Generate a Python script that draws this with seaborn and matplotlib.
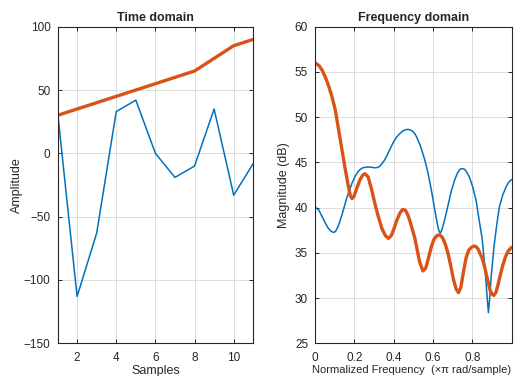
import numpy as np
import pandas as pd
import matplotlib
matplotlib.use("Agg")
import matplotlib.pyplot as plt
import seaborn as sns

# ---- data ----
samples = [1, 2, 3, 4, 5, 6, 7, 8, 9, 10, 11]
signal_blue = [33, -113, -63, 33, 42, 0, -19, -10, 35, -33, -8]
signal_orange = [30, 35, 40, 45, 50, 55, 60, 65, 75, 85, 90]

freq_orange = [0.000, 0.020, 0.036, 0.053, 0.070, 0.087, 0.103, 0.120, 0.137,
               0.154, 0.170, 0.180, 0.188, 0.197, 0.210, 0.229, 0.243, 0.254,
               0.270, 0.288, 0.305, 0.322, 0.340, 0.358, 0.373, 0.388, 0.402,
               0.416, 0.432, 0.446, 0.460, 0.472, 0.483, 0.495, 0.507, 0.520,
               0.532, 0.549, 0.563, 0.578, 0.592, 0.605, 0.620, 0.634, 0.648,
               0.662, 0.676, 0.690, 0.705, 0.718, 0.730, 0.742, 0.755, 0.768,
               0.782, 0.795, 0.808, 0.819, 0.830, 0.840, 0.850, 0.861, 0.875,
               0.890, 0.900, 0.909, 0.920, 0.930, 0.942, 0.955, 0.968, 0.980,
               0.990, 1.000]
mag_orange = [56.0, 55.7, 55.2, 54.4, 53.4, 52.2, 50.8, 48.6, 46.4,
              44.2, 42.3, 41.3, 41.0, 41.2, 42.0, 43.1, 43.6, 43.75,
              43.4, 42.0, 40.4, 39.0, 37.7, 36.9, 36.6, 36.9, 37.7,
              38.6, 39.4, 39.8, 39.7, 39.2, 38.5, 37.6, 36.7, 35.3,
              34.0, 33.0, 33.3, 34.5, 35.7, 36.5, 36.9, 37.0, 36.7,
              36.0, 35.0, 33.6, 32.0, 31.0, 30.6, 31.2, 32.9, 34.4,
              35.3, 35.6, 35.75, 35.7, 35.4, 34.9, 34.4, 33.6, 32.3,
              30.9, 30.45, 30.3, 30.6, 31.4, 32.5, 33.6, 34.5, 35.1,
              35.4, 35.6]

freq_blue = [0.000, 0.020, 0.036, 0.050, 0.065, 0.080, 0.095, 0.105, 0.115,
             0.125, 0.137, 0.150, 0.162, 0.171, 0.188, 0.205, 0.218, 0.229,
             0.242, 0.255, 0.270, 0.290, 0.305, 0.320, 0.330, 0.340, 0.352,
             0.365, 0.380, 0.398, 0.415, 0.432, 0.446, 0.460, 0.472, 0.483,
             0.495, 0.507, 0.517, 0.525, 0.533, 0.541, 0.558, 0.575, 0.592,
             0.609, 0.618, 0.625, 0.631, 0.637, 0.643, 0.650, 0.662, 0.676,
             0.694, 0.711, 0.724, 0.736, 0.744, 0.751, 0.760, 0.768, 0.785,
             0.802, 0.819, 0.835, 0.850, 0.865, 0.876, 0.882, 0.888, 0.897,
             0.910, 0.925, 0.938, 0.955, 0.972, 0.985, 1.000]
mag_blue = [40.1, 39.7, 39.0, 38.4, 37.8, 37.4, 37.25, 37.4, 37.8,
            38.4, 39.2, 40.2, 41.1, 41.7, 42.7, 43.5, 43.95, 44.2,
            44.4, 44.45, 44.5, 44.45, 44.4, 44.45, 44.6, 44.85, 45.2,
            45.7, 46.4, 47.2, 47.8, 48.2, 48.45, 48.6, 48.65, 48.6,
            48.45, 48.2, 47.8, 47.4, 47.0, 46.5, 45.3, 43.8, 41.9,
            39.8, 38.7, 37.9, 37.4, 37.2, 37.4, 37.9, 38.9, 40.2,
            41.9, 43.1, 43.8, 44.2, 44.3, 44.3, 44.25, 44.05, 43.4,
            42.3, 40.85, 38.6, 36.6, 33.2, 30.0, 28.4, 29.8, 32.6,
            35.6, 38.2, 40.1, 41.4, 42.3, 42.8, 43.1]

left_xticks = [2, 4, 6, 8, 10]
left_yticks = [-150, -100, -50, 0, 50, 100]
right_xticks = [0, 0.2, 0.4, 0.6, 0.8]
right_xticklabels = ["0", "0.2", "0.4", "0.6", "0.8"]
right_yticks = [25, 30, 35, 40, 45, 50, 55, 60]

BLUE = "#0072BD"
ORANGE = "#D95319"

sns.set_theme(style="whitegrid")
plt.rcParams["font.family"] = ["Liberation Sans", "DejaVu Sans"]
plt.rcParams["axes.edgecolor"] = "#262626"
plt.rcParams["axes.linewidth"] = 0.8
plt.rcParams["grid.color"] = "#dcdcdc"
plt.rcParams["grid.linewidth"] = 0.7

fig = plt.figure(figsize=(5.15, 3.76), dpi=100)
ax1 = fig.add_axes([0.1117, 0.0869, 0.3801, 0.8421])
ax2 = fig.add_axes([0.6117, 0.0869, 0.3817, 0.8421])

time_df = pd.DataFrame({"n": samples, "blue": signal_blue, "orange": signal_orange})
sns.lineplot(data=time_df, x="n", y="blue", ax=ax1, color=BLUE, linewidth=1.1)
sns.lineplot(data=time_df, x="n", y="orange", ax=ax1, color=ORANGE, linewidth=2.4)

fb = pd.DataFrame({"f": freq_blue, "m": mag_blue})
fo = pd.DataFrame({"f": freq_orange, "m": mag_orange})
sns.lineplot(data=fb, x="f", y="m", ax=ax2, color=BLUE, linewidth=1.1)
sns.lineplot(data=fo, x="f", y="m", ax=ax2, color=ORANGE, linewidth=2.4)

ax1.set_xlim(1, 11)
ax1.set_ylim(-150, 100)
ax1.set_xticks(left_xticks)
ax1.set_yticks(left_yticks)
ax1.set_title("Time domain", fontsize=9, fontweight="bold", pad=4)
ax1.set_xlabel("Samples", fontsize=9)
ax1.set_ylabel("Amplitude", fontsize=9)
ax1.yaxis.set_label_coords(-0.175, 0.5)
ax1.xaxis.set_label_coords(0.5, -0.07)

ax2.set_xlim(0, 1)
ax2.set_ylim(25, 60)
ax2.set_xticks(right_xticks)
ax2.set_xticklabels(right_xticklabels)
ax2.set_yticks(right_yticks)
ax2.set_title("Frequency domain", fontsize=9, fontweight="bold", pad=4)
ax2.set_xlabel("Normalized Frequency  (\u00d7\u03c0 rad/sample)", fontsize=8)
ax2.set_ylabel("Magnitude (dB)", fontsize=9)
ax2.yaxis.set_label_coords(-0.127, 0.5)
ax2.xaxis.set_label_coords(0.49, -0.07)

for ax in (ax1, ax2):
    ax.set_facecolor("white")
    ax.grid(True)
    ax.tick_params(direction="in", length=3, width=0.7, labelsize=8.5,
                   top=True, right=True, bottom=True, left=True,
                   colors="#262626")
    ax.tick_params(axis="y", pad=5)
    ax.tick_params(axis="x", pad=6)
    for s in ax.spines.values():
        s.set_visible(True)
        s.set_color("#262626")

fig.savefig("out.png", dpi=100, facecolor="white")
